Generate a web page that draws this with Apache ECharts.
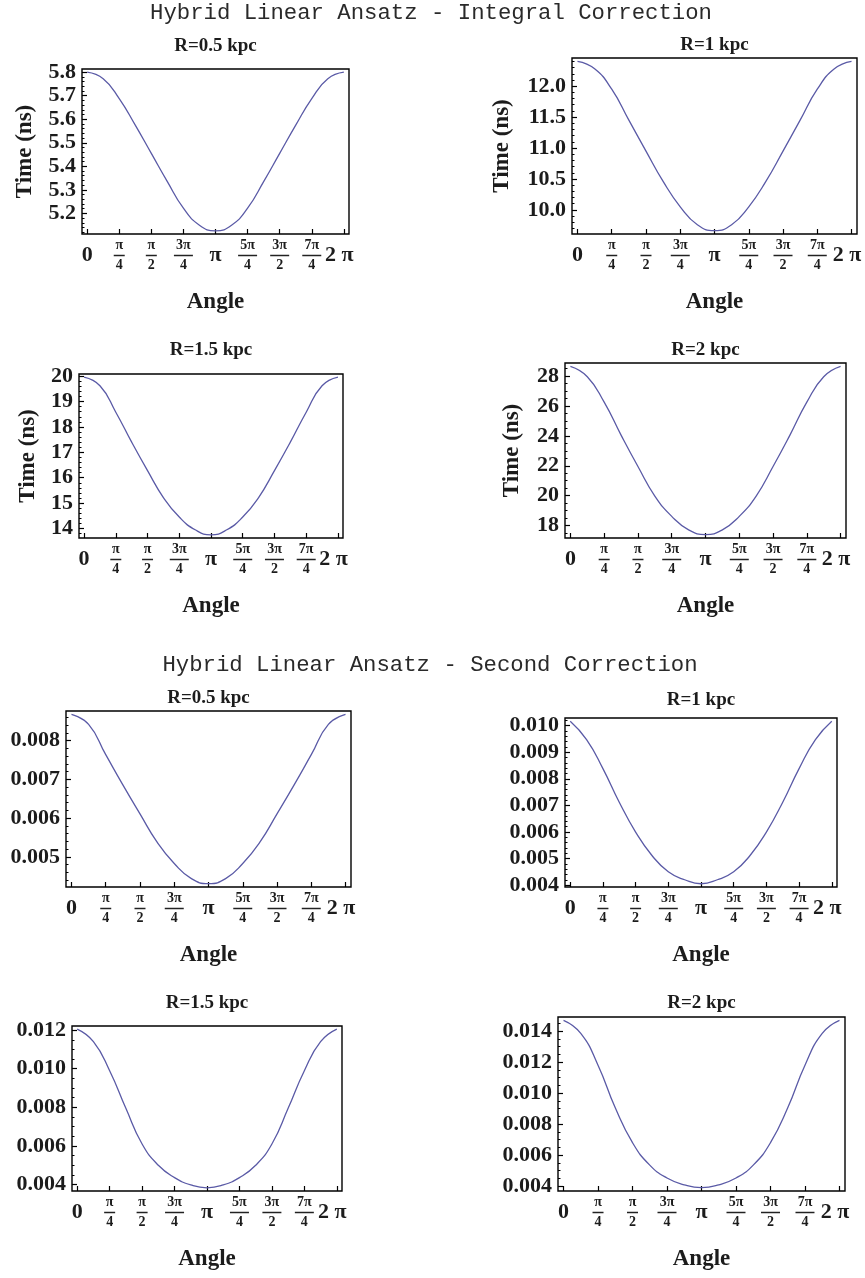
<!DOCTYPE html>
<html>
<head>
<meta charset="utf-8">
<script src="https://cdn.jsdelivr.net/npm/echarts@6/dist/echarts.min.js"></script>
<style>
html,body{margin:0;padding:0;background:#fff;}
#c{width:865px;height:1278px;}
</style>
</head>
<body>
<div id="c"></div>
<script>
// ---------------- data ----------------
const sectionTitles = ['Hybrid Linear Ansatz - Integral Correction', 'Hybrid Linear Ansatz - Second Correction'];
const panelTitles = ['R=0.5 kpc', 'R=1 kpc', 'R=1.5 kpc', 'R=2 kpc'];
const xAxisName = 'Angle';
const yAxisName = 'Time (ns)';

// sampled angles (rad), 0 .. 2π in steps of π/8
const angles = [0, 0.3927, 0.7854, 1.1781, 1.5708, 1.9635, 2.3562, 2.7489, 3.1416,
                3.5343, 3.9270, 4.3197, 4.7124, 5.1051, 5.4978, 5.8905, 6.2832];
const angleTicks = [0, 0.7854, 1.5708, 2.3562, 3.1416, 3.9270, 4.7124, 5.4978, 6.2832];
const angleTickLabels = ['0', 'π/4', 'π/2', '3π/4', 'π', '5π/4', '3π/2', '7π/4', '2 π'];

// Integral correction (Time, ns)
const integralR05 = [5.800, 5.772, 5.688, 5.575, 5.455, 5.335, 5.222, 5.150, 5.126,
                     5.150, 5.222, 5.335, 5.455, 5.575, 5.688, 5.772, 5.800];
const integralR1  = [12.40, 12.28, 11.95, 11.45, 10.95, 10.46, 10.05, 9.76, 9.665,
                     9.76, 10.05, 10.46, 10.95, 11.45, 11.95, 12.28, 12.40];
const integralR15 = [19.96, 19.62, 18.58, 17.40, 16.28, 15.22, 14.45, 13.95, 13.75,
                     13.95, 14.45, 15.22, 16.28, 17.40, 18.58, 19.62, 19.96];
const integralR2  = [28.64, 27.95, 26.25, 24.05, 21.95, 19.98, 18.62, 17.72, 17.40,
                     17.72, 18.62, 19.98, 21.95, 24.05, 26.25, 27.95, 28.64];

// Second correction
const secondR05 = [0.00868, 0.00842, 0.00764, 0.00686, 0.00611, 0.00538, 0.00483, 0.00444, 0.00431,
                   0.00444, 0.00483, 0.00538, 0.00611, 0.00686, 0.00764, 0.00842, 0.00868];
const secondR1  = [0.01016, 0.00947, 0.00838, 0.00712, 0.00600, 0.00512, 0.00451, 0.00421, 0.00406,
                   0.00421, 0.00451, 0.00512, 0.00600, 0.00712, 0.00838, 0.00947, 0.01016];
const secondR15 = [0.01205, 0.01140, 0.00990, 0.00795, 0.00610, 0.00500, 0.00436, 0.00398, 0.00383,
                   0.00398, 0.00436, 0.00500, 0.00610, 0.00795, 0.00990, 0.01140, 0.01205];
const secondR2  = [0.01469, 0.01385, 0.01180, 0.00905, 0.00680, 0.00535, 0.00452, 0.00408, 0.00390,
                   0.00408, 0.00452, 0.00535, 0.00680, 0.00905, 0.01180, 0.01385, 0.01469];

// y tick values
const yTicksIntR05 = [5.2, 5.3, 5.4, 5.5, 5.6, 5.7, 5.8];
const yTicksIntR1  = [10.0, 10.5, 11.0, 11.5, 12.0];
const yTicksIntR15 = [14, 15, 16, 17, 18, 19, 20];
const yTicksIntR2  = [18, 20, 22, 24, 26, 28];
const yTicksSecR05 = [0.005, 0.006, 0.007, 0.008];
const yTicksSecR1  = [0.004, 0.005, 0.006, 0.007, 0.008, 0.009, 0.010];
const yTicksSecR15 = [0.004, 0.006, 0.008, 0.010, 0.012];
const yTicksSecR2  = [0.004, 0.006, 0.008, 0.010, 0.012, 0.014];

// ---------------- layout / style ----------------
const SERIF = '"Liberation Serif", "Times New Roman", serif';
const MONO = '"Liberation Mono", "Courier New", monospace';
const TXT = '#1c1c1c';
const LINE = '#5a5aa6';

const panels = [
  {data: integralR05, yTicks: yTicksIntR05, minor: 0.02,   dec: 1, title: panelTitles[0], yName: true,  box: [82, 69, 267, 165],  nameGap: 45, titleY: 46},
  {data: integralR1,  yTicks: yTicksIntR1,  minor: 0.1,    dec: 1, title: panelTitles[1], yName: true,  box: [572, 58, 285, 176], nameGap: 58, titleY: 45},
  {data: integralR15, yTicks: yTicksIntR15, minor: 0.2,    dec: 0, title: panelTitles[2], yName: true,  box: [79, 374, 264, 164], nameGap: 39, titleY: 350},
  {data: integralR2,  yTicks: yTicksIntR2,  minor: 0.5,    dec: 0, title: panelTitles[3], yName: true,  box: [565, 363, 281, 175], nameGap: 41, titleY: 350},
  {data: secondR05,   yTicks: yTicksSecR05, minor: 0.0002, dec: 3, title: panelTitles[0], yName: false, box: [66, 711, 285, 176], titleY: 698},
  {data: secondR1,    yTicks: yTicksSecR1,  minor: 0.0002, dec: 3, title: panelTitles[1], yName: false, box: [565, 718, 272, 169], titleY: 700},
  {data: secondR15,   yTicks: yTicksSecR15, minor: 0.0005, dec: 3, title: panelTitles[2], yName: false, box: [72, 1026, 270, 165], titleY: 1003},
  {data: secondR2,    yTicks: yTicksSecR2,  minor: 0.0005, dec: 3, title: panelTitles[3], yName: false, box: [558, 1017, 287, 174], titleY: 1003}
];
const sectionTitlePos = [[431, 13], [430, 665]];

const TWO_PI = 6.2832;
const xMin = -0.02 * TWO_PI, xMax = TWO_PI * 1.02;

function minorValues(lo, hi, step) {
  const out = [];
  for (let k = Math.ceil(lo / step - 1e-9); k * step <= hi + 1e-12; k++) out.push(+(k * step).toPrecision(10));
  return out;
}
function angleLabel(v) {
  let k = 0, best = Infinity;
  angleTicks.forEach((t, i) => { const d = Math.abs(t - v); if (d < best) { best = d; k = i; } });
  const s = angleTickLabels[k];
  const parts = s.split('/');
  if (parts.length === 2) {
    const bar = parts[0].length > 1 ? 'barW' : 'barN';
    return '{n|' + parts[0] + '}\n{' + bar + '| }\n{d|' + parts[1] + '}';
  }
  if (k === angleTickLabels.length - 1) return '{bigR|' + s + '}';
  return '{big|' + s + '}';
}
const richX = {
  n:    {fontFamily: SERIF, fontWeight: 'bold', fontSize: 14, lineHeight: 15, color: TXT, align: 'center'},
  d:    {fontFamily: SERIF, fontWeight: 'bold', fontSize: 14, lineHeight: 15, color: TXT, align: 'center'},
  barN: {width: 11, height: 1.5, backgroundColor: '#222', lineHeight: 5, fontSize: 2, align: 'center'},
  barW: {width: 19, height: 1.5, backgroundColor: '#222', lineHeight: 5, fontSize: 2, align: 'center'},
  big:  {fontFamily: SERIF, fontWeight: 'bold', fontSize: 22, lineHeight: 35, color: TXT, align: 'center'},
  bigR: {fontFamily: SERIF, fontWeight: 'bold', fontSize: 22, lineHeight: 35, color: TXT, align: 'center', padding: [0, 9, 0, 0]}
};

const grids = [], xAxes = [], yAxes = [], series = [], graphics = [];
panels.forEach((p, i) => {
  const [l, t, w, h] = p.box;
  grids.push({left: l, top: t, width: w, height: h, show: true, borderColor: '#000', borderWidth: 1.4,
              containLabel: false, outerBoundsMode: 'none'});
  const lo = Math.min(...p.data), hi = Math.max(...p.data), pad = 0.02 * (hi - lo);
  const yMin = lo - pad, yMax = hi + pad;
  xAxes.push({
    type: 'value', gridIndex: i, min: xMin, max: xMax,
    axisLine: {show: false, onZero: false},
    splitLine: {show: false},
    axisTick: {show: true, inside: true, length: 5, lineStyle: {color: '#000', width: 1.2}, customValues: angleTicks},
    axisLabel: {show: true, customValues: angleTicks, margin: 4, formatter: angleLabel, rich: richX, color: TXT},
    name: xAxisName, nameLocation: 'middle', nameGap: 57,
    nameTextStyle: {fontFamily: SERIF, fontWeight: 'bold', fontSize: 23, color: TXT}
  });
  yAxes.push({
    type: 'value', gridIndex: i, min: yMin, max: yMax, position: 'left',
    axisLine: {show: false, onZero: false},
    splitLine: {show: false},
    axisTick: {show: true, inside: true, length: 5, lineStyle: {color: '#000', width: 1.2}, customValues: p.yTicks},
    axisLabel: {show: true, customValues: p.yTicks, margin: 6, formatter: v => v.toFixed(p.dec),
                fontFamily: SERIF, fontWeight: 'bold', fontSize: 22, color: TXT},
    name: p.yName ? yAxisName : '', nameLocation: 'middle', nameGap: p.nameGap || 40,
    nameTextStyle: {fontFamily: SERIF, fontWeight: 'bold', fontSize: 23, color: TXT}
  });
  yAxes.push({
    type: 'value', gridIndex: i, min: yMin, max: yMax, position: 'left',
    axisLine: {show: false, onZero: false},
    splitLine: {show: false},
    axisTick: {show: true, inside: true, length: 2.5, lineStyle: {color: '#000', width: 1}, customValues: minorValues(yMin, yMax, p.minor)},
    axisLabel: {show: false}
  });
  series.push({
    type: 'line', xAxisIndex: i, yAxisIndex: 2 * i,
    data: angles.map((a, j) => [a, p.data[j]]),
    showSymbol: false, smooth: 0.5,
    lineStyle: {color: LINE, width: 1.3}, silent: true, animation: false
  });
  graphics.push({
    type: 'text', x: l + w / 2, y: p.titleY,
    style: {text: p.title, fontFamily: SERIF, fontWeight: 'bold', fontSize: 19, fill: TXT,
            textAlign: 'center', textVerticalAlign: 'middle', align: 'center', verticalAlign: 'middle'}
  });
});
sectionTitles.forEach((s, i) => {
  graphics.push({
    type: 'text', x: sectionTitlePos[i][0], y: sectionTitlePos[i][1],
    style: {text: s, fontFamily: MONO, fontSize: 22.3, fill: '#2a2a2a',
            textAlign: 'center', textVerticalAlign: 'middle', align: 'center', verticalAlign: 'middle'}
  });
});

const chart = echarts.init(document.getElementById('c'), null, {renderer: 'canvas', width: 865, height: 1278});
chart.setOption({
  animation: false,
  backgroundColor: '#fff',
  grid: grids, xAxis: xAxes, yAxis: yAxes, series: series,
  graphic: {elements: graphics}
});
</script>
</body>
</html>
